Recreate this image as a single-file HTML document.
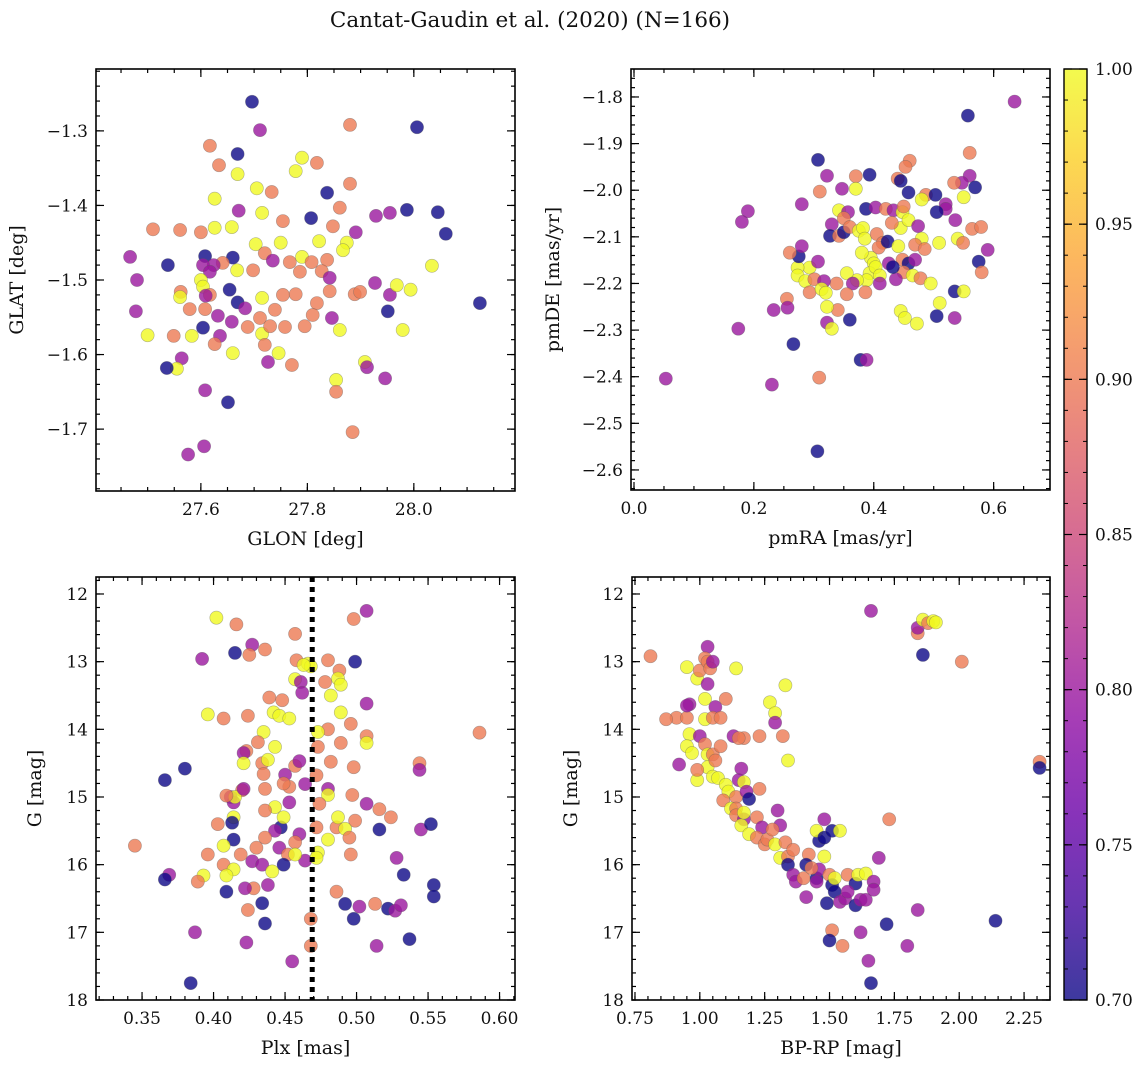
<!DOCTYPE html>
<html><head><meta charset="utf-8"><style>
html,body{margin:0;padding:0;background:#fff;}
svg text{font-family:"DejaVu Serif","Liberation Serif",serif;fill:#111;}
</style></head><body>
<svg id="fig" width="1148" height="1067" viewBox="0 0 1148 1067" xmlns="http://www.w3.org/2000/svg">
<rect width="1148" height="1067" fill="#fff"/>
<text x="530" y="27" font-size="21.5" text-anchor="middle">Cantat-Gaudin et al. (2020) (N=166)</text>
</svg>
<script>
// ---- Panel 1: GLON vs GLAT ----
const tlX=[27.696,27.711,27.617,27.880,28.006,27.669,27.634,27.790,27.818,27.778,27.669,27.733,27.705,27.837,27.880,27.626,27.671,27.715,27.754,27.861,27.929,27.955,27.987,28.045,28.060,27.807,27.848,27.658,27.626,27.561,27.600,27.510,27.750,27.703,27.822,27.874,27.891,27.867,27.720,27.660,27.735,27.767,27.790,27.808,27.837,27.608,27.641,27.624,27.604,27.668,27.698,27.786,27.827,27.842,28.034,28.124,27.467,27.480,27.478,27.500,27.538,27.617,27.600,27.562,27.604,27.617,27.654,27.609,27.561,27.669,27.715,27.754,27.778,27.842,27.889,27.899,27.927,27.955,27.994,27.968,27.951,27.979,27.908,27.912,27.946,27.818,27.810,27.846,27.739,27.711,27.688,27.715,27.730,27.758,27.795,27.861,27.636,27.604,27.658,27.632,27.683,27.608,27.579,27.626,27.660,27.720,27.726,27.771,27.746,27.564,27.555,27.536,27.583,27.549,27.608,27.651,27.854,27.854,27.885,27.576,27.606];
const tlY=[-1.261,-1.299,-1.320,-1.292,-1.295,-1.331,-1.346,-1.336,-1.343,-1.354,-1.358,-1.382,-1.377,-1.383,-1.371,-1.391,-1.407,-1.410,-1.421,-1.403,-1.414,-1.410,-1.406,-1.409,-1.438,-1.417,-1.428,-1.429,-1.430,-1.433,-1.436,-1.432,-1.450,-1.452,-1.448,-1.450,-1.436,-1.460,-1.464,-1.470,-1.474,-1.476,-1.469,-1.476,-1.473,-1.468,-1.477,-1.480,-1.480,-1.487,-1.487,-1.489,-1.488,-1.497,-1.481,-1.531,-1.469,-1.500,-1.542,-1.574,-1.480,-1.489,-1.500,-1.516,-1.509,-1.520,-1.513,-1.521,-1.523,-1.530,-1.524,-1.520,-1.519,-1.515,-1.519,-1.516,-1.504,-1.520,-1.513,-1.507,-1.542,-1.567,-1.610,-1.617,-1.632,-1.531,-1.547,-1.551,-1.540,-1.551,-1.563,-1.572,-1.562,-1.563,-1.562,-1.567,-1.575,-1.564,-1.556,-1.548,-1.538,-1.539,-1.539,-1.586,-1.598,-1.587,-1.610,-1.614,-1.598,-1.605,-1.619,-1.618,-1.575,-1.575,-1.648,-1.664,-1.634,-1.650,-1.704,-1.734,-1.723];
const tlP=[.70,.80,.90,.90,.70,.70,.90,1,.90,1,1,.90,1,.70,.90,1,.80,1,.90,.90,.80,.80,.70,.70,.70,.70,.90,1,1,.90,.90,.90,1,1,1,1,.80,1,.90,.70,.80,.90,1,.90,.90,.70,.90,.80,.80,1,.90,.90,.90,.80,1,.70,.80,.80,.80,1,.70,.80,1,.90,1,.90,.70,.80,1,.70,1,.90,.90,.90,.90,.90,.80,.80,1,1,.70,1,1,.80,.80,.90,.90,.80,.90,.90,.90,1,.90,.90,.90,1,.80,.70,.80,.80,.80,.90,.90,.90,1,.90,.80,.90,1,.80,1,.70,1,.90,.80,.70,1,.90,.90,.80,.80];

// ---- Panel 2: pmRA vs pmDE ----
const trX=[0.635,0.557,0.56,0.46,0.307,0.322,0.347,0.393,0.37,0.453,0.56,0.569,0.547,0.534,0.37,0.458,0.44,0.445,0.487,0.503,0.31,0.28,0.19,0.18,0.55,0.48,0.52,0.52,0.387,0.403,0.42,0.433,0.448,0.45,0.505,0.342,0.357,0.35,0.33,0.327,0.342,0.35,0.36,0.375,0.382,0.385,0.405,0.415,0.408,0.423,0.445,0.458,0.43,0.474,0.48,0.441,0.469,0.485,0.509,0.54,0.549,0.564,0.536,0.579,0.59,0.575,0.58,0.395,0.38,0.4,0.393,0.403,0.41,0.425,0.448,0.458,0.469,0.45,0.465,0.437,0.478,0.495,0.432,0.388,0.372,0.355,0.338,0.365,0.386,0.41,0.293,0.273,0.273,0.286,0.301,0.317,0.275,0.307,0.293,0.313,0.32,0.355,0.34,0.322,0.28,0.26,0.255,0.233,0.256,0.36,0.322,0.33,0.445,0.452,0.505,0.535,0.535,0.55,0.51,0.472,0.174,0.266,0.378,0.388,0.23,0.309,0.053,0.306];
const trY=[-1.81,-1.84,-1.92,-1.937,-1.935,-1.969,-1.997,-1.967,-1.97,-1.95,-1.969,-1.994,-1.984,-1.984,-1.997,-2.005,-1.975,-1.98,-2.01,-2.01,-2.003,-2.03,-2.045,-2.068,-2.015,-2.02,-2.03,-2.04,-2.04,-2.037,-2.04,-2.043,-2.047,-2.035,-2.047,-2.043,-2.047,-2.06,-2.073,-2.098,-2.098,-2.09,-2.079,-2.087,-2.081,-2.104,-2.094,-2.113,-2.123,-2.11,-2.081,-2.064,-2.07,-2.077,-2.104,-2.12,-2.117,-2.126,-2.113,-2.104,-2.113,-2.083,-2.064,-2.079,-2.128,-2.153,-2.176,-2.145,-2.134,-2.157,-2.178,-2.165,-2.183,-2.157,-2.149,-2.157,-2.149,-2.176,-2.183,-2.191,-2.189,-2.2,-2.165,-2.193,-2.193,-2.178,-2.2,-2.2,-2.219,-2.2,-2.166,-2.166,-2.183,-2.195,-2.191,-2.195,-2.142,-2.153,-2.219,-2.212,-2.22,-2.223,-2.257,-2.25,-2.12,-2.134,-2.233,-2.257,-2.252,-2.278,-2.284,-2.297,-2.259,-2.274,-2.27,-2.274,-2.217,-2.217,-2.242,-2.286,-2.297,-2.33,-2.364,-2.364,-2.417,-2.402,-2.404,-2.56];
const trP=[.80,.70,.90,.90,.70,.80,.80,.70,.90,.90,.80,.70,.80,.90,1,.70,.90,.70,.90,.70,.90,.80,.80,.80,1,1,.80,.80,.70,.80,.90,.80,1,.90,.70,1,.80,.90,.80,.70,.90,.70,.90,1,1,1,.90,.90,.90,.70,1,1,.90,.80,1,1,.90,.90,1,1,.90,.90,.80,.90,.80,.70,.90,1,1,1,1,1,1,.80,.90,.70,.80,.90,1,.80,.90,1,.70,1,1,1,.90,.80,.90,.80,1,1,1,1,.90,.80,.70,.80,.90,1,1,.90,.90,1,.80,.90,.90,.80,.80,.70,.80,1,1,1,.70,.80,.70,1,1,1,.80,.70,.70,.80,.80,.90,.80,.70];

// ---- Panel 3: Plx vs G ----
const blX=[0.402,0.416,0.507,0.498,0.427,0.436,0.415,0.425,0.392,0.457,0.458,0.466,0.480,0.499,0.468,0.463,0.488,0.487,0.489,0.478,0.457,0.461,0.462,0.439,0.482,0.448,0.442,0.446,0.396,0.407,0.424,0.507,0.489,0.453,0.496,0.480,0.473,0.507,0.586,0.435,0.431,0.443,0.423,0.421,0.421,0.434,0.438,0.435,0.450,0.457,0.473,0.489,0.507,0.482,0.498,0.544,0.544,0.460,0.472,0.464,0.480,0.480,0.497,0.507,0.474,0.516,0.524,0.516,0.545,0.486,0.499,0.487,0.492,0.472,0.460,0.457,0.473,0.480,0.495,0.496,0.464,0.447,0.453,0.443,0.436,0.453,0.449,0.449,0.443,0.446,0.452,0.457,0.472,0.436,0.430,0.427,0.434,0.449,0.441,0.438,0.428,0.434,0.407,0.419,0.414,0.414,0.409,0.422,0.424,0.414,0.403,0.407,0.396,0.414,0.420,0.412,0.415,0.409,0.421,0.436,0.413,0.393,0.409,0.389,0.369,0.366,0.345,0.366,0.380,0.436,0.423,0.455,0.468,0.468,0.486,0.492,0.502,0.498,0.514,0.513,0.522,0.527,0.531,0.533,0.528,0.537,0.554,0.554,0.552,0.387,0.384];
const blY=[12.35,12.45,12.25,12.37,12.75,12.82,12.87,12.9,12.96,12.59,12.98,13.03,12.98,13.0,13.07,13.05,13.13,13.25,13.34,13.3,13.26,13.3,13.46,13.53,13.5,13.57,13.75,13.8,13.78,13.84,13.8,13.62,13.75,13.84,13.92,14.0,14.04,14.1,14.05,14.04,14.19,14.26,14.32,14.35,14.5,14.5,14.45,14.66,14.67,14.54,14.26,14.2,14.2,14.48,14.56,14.5,14.6,14.47,14.68,14.81,14.88,14.97,14.97,15.1,15.1,15.18,15.3,15.48,15.48,15.45,15.35,15.3,15.47,15.45,15.55,15.67,15.82,15.63,15.6,15.85,15.94,15.45,15.08,15.15,15.2,14.85,14.8,15.3,15.5,15.75,15.85,15.85,15.9,15.6,15.75,15.95,16.0,16.0,16.1,16.3,16.35,16.57,16.0,15.85,15.63,16.07,16.16,16.35,16.67,15.3,15.4,15.72,15.85,15.08,14.9,15.0,15.0,14.98,14.88,14.88,15.38,16.16,16.4,16.25,16.15,16.22,15.72,14.75,14.58,16.87,17.15,17.43,16.8,17.2,16.4,16.58,16.62,16.8,17.2,16.58,16.65,16.68,16.6,16.15,15.9,17.1,16.3,16.47,15.4,17.0,17.75];
const blP=[1,.9,.8,.9,.8,.9,.7,.9,.8,.9,.9,1,.9,.7,1,1,.9,1,1,.9,1,.8,.8,.9,1,.9,1,1,1,.9,.9,.8,1,1,.9,.9,1,.9,.9,1,.9,1,.9,.8,1,.9,1,.9,.8,.9,.9,.9,1,.9,.9,.9,.8,.8,.9,.8,.8,1,.9,.8,.9,.9,.9,.7,.8,.9,.9,1,1,.9,.8,.9,1,1,.9,.9,.8,.7,.8,1,.9,.9,.9,1,.8,.8,.9,1,1,.9,.9,.8,.8,.7,1,.8,.9,.7,.9,.9,.7,1,1,.8,.9,1,.9,1,.9,.8,.9,.8,1,.9,.8,.9,.7,1,.7,.9,.8,.7,.9,.7,.7,.7,.8,.8,.9,.9,.9,.7,.8,.7,.8,.9,.7,.8,.8,.7,.8,.7,.7,.7,.7,.8,.7];

// ---- Panel 4: BP-RP vs G ----
const brX=[0.81,1.03,0.95,0.99,1.0,1.02,1.03,1.04,1.05,1.14,1.03,0.96,1.02,1.06,1.1,0.91,0.95,1.02,1.05,1.08,0.96,1.0,0.95,0.97,1.02,1.03,1.05,1.03,1.06,1.08,1.13,1.17,1.15,1.27,1.29,1.33,1.23,1.32,1.34,1.29,0.92,0.99,0.99,1.05,1.07,1.16,1.15,1.17,1.1,1.11,1.09,1.14,1.18,1.23,1.19,1.12,1.14,1.14,1.17,1.16,1.17,1.22,1.3,1.31,1.24,1.19,1.22,1.25,1.26,1.28,1.29,1.33,1.31,1.34,1.34,1.36,1.36,1.42,1.37,1.41,1.4,1.45,1.46,1.43,1.41,1.45,1.5,1.48,1.46,1.45,1.48,1.48,1.51,1.54,1.51,1.52,1.49,1.52,1.54,1.57,1.56,1.6,1.6,1.62,1.64,1.51,1.57,1.5,1.55,1.61,1.64,1.67,1.67,1.69,1.62,1.65,1.66,1.73,1.72,1.66,1.84,1.84,1.86,1.88,1.9,1.91,1.86,1.84,1.8,2.01,2.14,2.31,2.31,0.95,0.87];
const brY=[12.92,12.78,13.08,13.25,13.13,12.95,13.0,13.1,13.0,13.1,13.33,13.63,13.55,13.67,13.55,13.83,13.83,13.85,13.83,13.83,14.07,14.1,14.25,14.35,14.22,14.37,14.37,14.56,14.46,14.25,14.1,14.13,14.13,13.6,13.76,13.35,14.1,14.1,14.46,13.9,14.52,14.75,14.6,14.7,14.72,14.58,14.75,14.78,14.82,14.92,15.05,15.0,14.92,14.88,15.03,15.17,15.17,15.27,15.33,15.42,15.23,15.3,15.2,15.42,15.45,15.55,15.6,15.7,15.63,15.48,15.7,15.67,15.9,15.88,16.0,16.15,15.78,15.85,16.25,16.0,16.2,16.2,16.07,16.05,16.48,16.25,16.15,15.88,15.65,15.5,15.33,15.6,15.5,15.5,16.3,16.2,16.57,16.4,16.55,16.15,16.5,16.28,16.6,16.52,16.52,16.97,16.4,17.12,17.2,16.15,16.13,16.25,16.37,15.9,17.0,17.42,17.75,15.33,16.88,12.25,12.58,12.5,12.38,12.43,12.4,12.42,12.9,16.67,17.2,13.0,16.83,14.48,14.57,13.65,13.85];
const brP=[.9,.8,1,1,.9,.9,.9,.9,.8,1,.8,.8,1,.8,.9,.9,.9,1,.9,.9,1,.8,1,1,.9,1,.9,1,.9,.9,.8,.9,.9,1,1,1,.9,.9,1,.8,.8,1,.9,1,1,.8,.8,1,1,1,.9,.9,.8,.9,.7,1,.9,.9,.8,1,1,.9,.8,.8,.8,1,.9,.9,.9,.9,1,.9,1,.9,.7,.8,.9,.9,.8,.7,.9,.7,.8,.9,.8,.8,.9,1,.7,1,.8,.7,.7,1,.7,1,.7,.7,.8,.9,.8,.7,.7,.8,.8,.9,.8,.7,.9,1,1,.8,.8,.8,.8,.8,.7,.9,.7,.8,.9,.8,1,.9,1,1,.7,.8,.8,.9,.7,.9,.7,.8,.9];

// ---- Colorbar ----
const cbTicks=[0.70,0.75,0.80,0.85,0.90,0.95,1.00];
const vmin=0.7, vmax=1.0;

const NS='http://www.w3.org/2000/svg';
const svg=document.getElementById('fig');
function el(tag,attrs,parent){const e=document.createElementNS(NS,tag);for(const k in attrs)e.setAttribute(k,attrs[k]);(parent||svg).appendChild(e);return e;}

const plasma=[[13,8,135],[65,4,157],[106,0,168],[143,13,164],[177,42,144],[204,71,120],[225,100,98],[242,132,75],[252,166,54],[252,206,37],[240,249,33]];
function cmap(v){let t=(v-vmin)/(vmax-vmin);t=Math.max(0,Math.min(1,t))*10;const i=Math.min(9,Math.floor(t)),f=t-i;const a=plasma[i],b=plasma[i+1];return 'rgb('+a.map((c,k)=>Math.round(c+(b[k]-c)*f)).join(',')+')';}
function fmtMinus(s){return s.replace('-','\u2212');}

function panel(cfg){
  const g=el('g',{});
  
  
  const sx=v=>cfg.px0+(v-cfg.xlim[0])/(cfg.xlim[1]-cfg.xlim[0])*(cfg.px1-cfg.px0);
  const sy=v=>cfg.py0+(v-cfg.ylim[0])/(cfg.ylim[1]-cfg.ylim[0])*(cfg.py1-cfg.py0);
  const pts=el('g',{},g);
  
  
  for(let i=0;i<cfg.xs.length;i++){
    const c=el('circle',{cx:sx(cfg.xs[i]).toFixed(1),cy:sy(cfg.ys[i]).toFixed(1),r:6.6,fill:cmap(cfg.ps[i]),'fill-opacity':0.8,stroke:'rgba(90,90,90,0.45)','stroke-width':0.6},pts);
    
    
  }
  if(cfg.vline!==undefined){
    const l=el('line',{x1:sx(cfg.vline),x2:sx(cfg.vline),y1:cfg.py0,y2:cfg.py1,stroke:'#000','stroke-width':5,'stroke-dasharray':'5,5'},g);
    
    
  }
  const ax=el('g',{},g);
  
  
  el('rect',{x:cfg.px0,y:cfg.py0,width:cfg.px1-cfg.px0,height:cfg.py1-cfg.py0,fill:'none',stroke:'#000','stroke-width':1.6},ax);
  const tk=(x1,y1,x2,y2)=>el('line',{x1,y1,x2,y2,stroke:'#000','stroke-width':1.2},ax);
  const inX=v=>{const x=sx(v);return x>=cfg.px0-0.5&&x<=cfg.px1+0.5;};
  const inY=v=>{const y=sy(v);return y>=Math.min(cfg.py0,cfg.py1)-0.5&&y<=Math.max(cfg.py0,cfg.py1)+0.5;};
  for(let v=Math.ceil(cfg.xlim[0]/cfg.xmin-1e-6)*cfg.xmin; v<=cfg.xlim[1]; v+=cfg.xmin){if(!inX(v))continue;const x=sx(v);tk(x,cfg.py1,x,cfg.py1-4);tk(x,cfg.py0,x,cfg.py0+4);}
  const ylo=Math.min(cfg.ylim[0],cfg.ylim[1]),yhi=Math.max(cfg.ylim[0],cfg.ylim[1]);
  for(let v=Math.ceil(ylo/cfg.ymin-1e-6)*cfg.ymin; v<=yhi; v+=cfg.ymin){if(!inY(v))continue;const y=sy(v);tk(cfg.px0,y,cfg.px0+4,y);tk(cfg.px1,y,cfg.px1-4,y);}
  cfg.xticks.forEach((v,i)=>{const x=sx(v);tk(x,cfg.py1,x,cfg.py1-8);tk(x,cfg.py0,x,cfg.py0+8);
    const t=el('text',{x:x,y:cfg.py1+24,'font-size':17,'text-anchor':'middle'},ax);t.textContent=fmtMinus(cfg.xlabels[i]);
    });
  cfg.yticks.forEach((v,i)=>{const y=sy(v);tk(cfg.px0,y,cfg.px0+8,y);tk(cfg.px1,y,cfg.px1-8,y);
    const t=el('text',{x:cfg.px0-8,y:y+6,'font-size':17,'text-anchor':'end'},ax);t.textContent=fmtMinus(cfg.ylabels[i]);
    });
  const xt=el('text',{x:(cfg.px0+cfg.px1)/2,y:cfg.py1+54,'font-size':19,'text-anchor':'middle'},g);xt.textContent=cfg.xtitle;
  
  const yt=el('text',{x:0,y:0,'font-size':19,'text-anchor':'middle',transform:'translate('+cfg.ytx+','+((cfg.py0+cfg.py1)/2)+') rotate(-90)'},g);yt.textContent=cfg.ytitle;
  
}

panel({name:'panel-glon-glat',px0:96,px1:515,py0:69,py1:491,xlim:[27.403,28.190],ylim:[-1.217,-1.783],
  xs:tlX,ys:tlY,ps:tlP,xticks:[27.6,27.8,28.0],xlabels:['27.6','27.8','28.0'],xmin:0.05,
  yticks:[-1.3,-1.4,-1.5,-1.6,-1.7],ylabels:['-1.3','-1.4','-1.5','-1.6','-1.7'],ymin:0.02,xtitle:'GLON [deg]',ytitle:'GLAT [deg]',ytx:23});
panel({name:'panel-pmra-pmde',px0:631,px1:1050,py0:69,py1:490,xlim:[-0.005,0.694],ylim:[-1.740,-2.643],
  xs:trX,ys:trY,ps:trP,xticks:[0,0.2,0.4,0.6],xlabels:['0.0','0.2','0.4','0.6'],xmin:0.05,
  yticks:[-1.8,-1.9,-2.0,-2.1,-2.2,-2.3,-2.4,-2.5,-2.6],ylabels:['-1.8','-1.9','-2.0','-2.1','-2.2','-2.3','-2.4','-2.5','-2.6'],ymin:0.02,xtitle:'pmRA [mas/yr]',ytitle:'pmDE [mas/yr]',ytx:559});
panel({name:'panel-plx-g',px0:96,px1:515,py0:577,py1:1000,xlim:[0.3178,0.6108],ylim:[11.749,18.0],
  xs:blX,ys:blY,ps:blP,xticks:[0.35,0.40,0.45,0.50,0.55,0.60],xlabels:['0.35','0.40','0.45','0.50','0.55','0.60'],xmin:0.01,
  yticks:[12,13,14,15,16,17,18],ylabels:['12','13','14','15','16','17','18'],ymin:0.2,xtitle:'Plx [mas]',ytitle:'G [mag]',ytx:41,vline:0.469});
panel({name:'panel-bprp-g',px0:632,px1:1050,py0:577,py1:1000,xlim:[0.7385,2.35],ylim:[11.749,18.0],
  xs:brX,ys:brY,ps:brP,xticks:[0.75,1.0,1.25,1.5,1.75,2.0,2.25],xlabels:['0.75','1.00','1.25','1.50','1.75','2.00','2.25'],xmin:0.05,
  yticks:[12,13,14,15,16,17,18],ylabels:['12','13','14','15','16','17','18'],ymin:0.2,xtitle:'BP-RP [mag]',ytitle:'G [mag]',ytx:577});

(function(){
  const cx0=1064,cx1=1087,cy0=69,cy1=1000;
  const cb=el('g',{});
  
  
  const defs=el('defs',{},cb);
  const lg=el('linearGradient',{id:'cbg',x1:0,y1:1,x2:0,y2:0},defs);
  for(let i=0;i<=20;i++){const v=vmin+(vmax-vmin)*i/20;el('stop',{offset:(i/20),'stop-color':cmap(v)},lg);}
  el('rect',{x:cx0,y:cy0,width:cx1-cx0,height:cy1-cy0,fill:'url(#cbg)','fill-opacity':0.8},cb);
  el('rect',{x:cx0,y:cy0,width:cx1-cx0,height:cy1-cy0,fill:'none',stroke:'#000','stroke-width':1.4},cb);
  const sy=v=>cy1-(v-vmin)/(vmax-vmin)*(cy1-cy0);
  for(let k=0;k<=30;k++){const v=vmin+k*0.01;const y=sy(v);el('line',{x1:cx1,x2:cx1-4,y1:y,y2:y,stroke:'#000','stroke-width':1},cb);el('line',{x1:cx0,x2:cx0+4,y1:y,y2:y,stroke:'#000','stroke-width':1},cb);}
  cbTicks.forEach(v=>{const y=sy(v);el('line',{x1:cx1,x2:cx1-8,y1:y,y2:y,stroke:'#000','stroke-width':1.2},cb);el('line',{x1:cx0,x2:cx0+8,y1:y,y2:y,stroke:'#000','stroke-width':1.2},cb);
    const t=el('text',{x:cx1+8,y:y+6,'font-size':17},cb);t.textContent=v.toFixed(2);
    });
})();
</script>
</body></html>
